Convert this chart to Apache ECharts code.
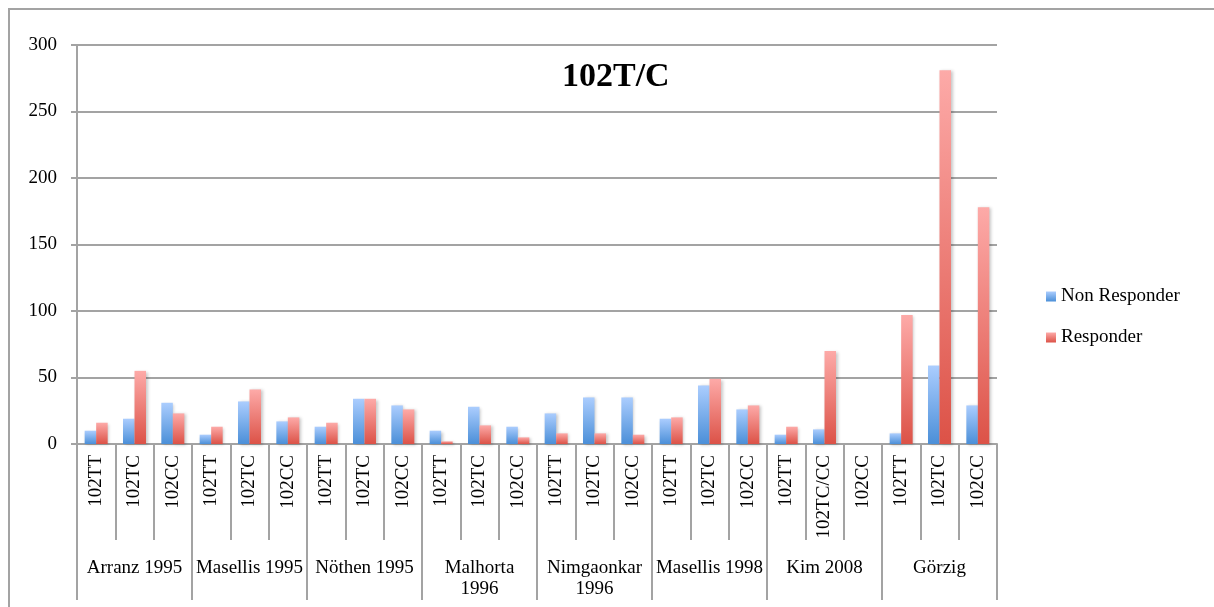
<!DOCTYPE html>
<html>
<head>
<meta charset="utf-8">
<script src="https://cdn.jsdelivr.net/npm/echarts@6/dist/echarts.min.js"></script>
<style>
  html, body { margin: 0; padding: 0; background: #fff; }
  #chart { width: 1214px; height: 607px; }
</style>
</head>
<body>
<div id="chart"></div>
<script>
// Studies (outer axis level) and genotype per bar slot (inner axis level)
const studies = ['Arranz 1995', 'Masellis 1995', 'Nöthen 1995', 'Malhorta\n1996',
                 'Nimgaonkar\n1996', 'Masellis 1998', 'Kim 2008', 'Görzig'];
const genotypes = ['102TT', '102TC', '102CC', '102TT', '102TC', '102CC',
                   '102TT', '102TC', '102CC', '102TT', '102TC', '102CC',
                   '102TT', '102TC', '102CC', '102TT', '102TC', '102CC',
                   '102TT', '102TC/CC', '102CC', '102TT', '102TC', '102CC'];
// Patient counts per genotype
const nonResponder = [10, 19, 31, 7, 32, 17, 13, 34, 29, 10, 28, 13,
                      23, 35, 35, 19, 44, 26, 7, 11, null, 8, 59, 29];
const responder = [16, 55, 23, 13, 41, 20, 16, 34, 26, 2, 14, 5,
                   8, 8, 7, 20, 49, 29, 13, 70, null, 97, 281, 178];
const yTicks = { min: 0, max: 300, step: 50 };

const FONT = 'Liberation Serif';
const GREY = '#a3a3a3';

function vGrad(top, bottom) {
  return new echarts.graphic.LinearGradient(0, 0, 0, 1, [
    { offset: 0, color: top }, { offset: 1, color: bottom }
  ]);
}

const barShadow = {
  shadowBlur: 3, shadowOffsetX: 1.5, shadowOffsetY: 1,
  shadowColor: 'rgba(0,0,0,0.22)'
};

const chart = echarts.init(document.getElementById('chart'), null, { renderer: 'canvas' });
chart.setOption({
  animation: false,
  backgroundColor: '#fff',
  title: {
    text: '102T/C',
    left: 557, top: 55,
    textStyle: { fontFamily: FONT, fontWeight: 'bold', fontSize: 34, color: '#000' }
  },
  legend: {
    orient: 'vertical',
    left: 1041, top: 282,
    itemWidth: 10, itemHeight: 10, itemGap: 22,
    icon: 'rect',
    textStyle: { fontFamily: FONT, fontSize: 19, color: '#000' },
    data: ['Non Responder', 'Responder']
  },
  graphic: [{
    type: 'rect',
    shape: { x: 9, y: 9, width: 1400, height: 800 },
    style: { fill: 'none', stroke: GREY, lineWidth: 2 },
    silent: true
  }],
  grid: { left: 77, right: 217, top: 45, bottom: 163, containLabel: false },
  xAxis: [
    {
      type: 'category',
      data: genotypes,
      position: 'bottom',
      axisLine: { show: true, lineStyle: { color: GREY, width: 2 } },
      axisTick: { show: true, interval: 0, length: 96, lineStyle: { color: GREY, width: 2 } },
      axisLabel: {
        interval: 0, rotate: 90, margin: 11,
        fontFamily: FONT, fontSize: 19, color: '#000'
      }
    },
    {
      type: 'category',
      data: studies,
      position: 'bottom',
      axisLine: { show: false },
      axisTick: { show: true, interval: 0, length: 156, lineStyle: { color: GREY, width: 2 } },
      axisLabel: {
        interval: 0, margin: 114, lineHeight: 21,
        fontFamily: FONT, fontSize: 19, color: '#000'
      }
    }
  ],
  yAxis: {
    type: 'value',
    min: yTicks.min, max: yTicks.max, interval: yTicks.step,
    axisLine: { show: true, lineStyle: { color: GREY, width: 2 } },
    axisTick: { show: true, length: 6, lineStyle: { color: GREY, width: 2 } },
    splitLine: { show: true, lineStyle: { color: GREY, width: 2 } },
    axisLabel: { margin: 20, fontFamily: FONT, fontSize: 19, color: '#000' }
  },
  series: [
    {
      name: 'Non Responder',
      type: 'bar',
      xAxisIndex: 0,
      data: nonResponder,
      barWidth: 11.5,
      barGap: '0%',
      itemStyle: Object.assign({ color: vGrad('#abcdfe', '#4b8fd8') }, barShadow)
    },
    {
      name: 'Responder',
      type: 'bar',
      xAxisIndex: 0,
      data: responder,
      barWidth: 11.5,
      barGap: '0%',
      itemStyle: Object.assign({ color: vGrad('#fdaaa8', '#dc5247') }, barShadow)
    }
  ]
});
</script>
</body>
</html>
